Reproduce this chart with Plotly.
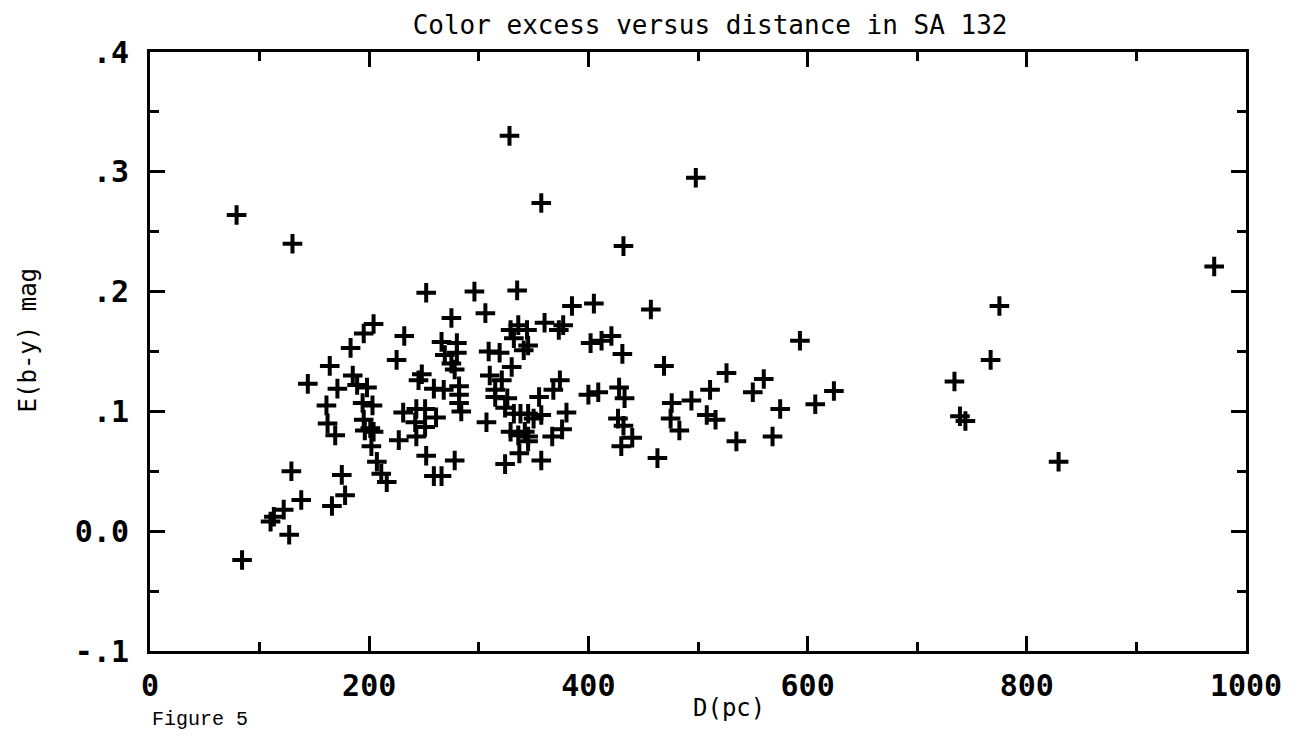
import plotly.graph_objects as go

# distance (pc) and colour excess E(b-y)
dist_pc = [
    79, 130, 328, 357, 432, 498,
    252, 296, 335,
    275, 204, 195, 232, 183, 266, 280, 269, 280, 275, 278, 225, 164, 144, 171,
    185, 189, 198, 248, 245, 259, 268, 282, 282, 282, 284, 161, 194, 203, 231,
    243, 251, 261, 242, 251, 243, 162, 169, 195, 201, 196, 204, 202, 207, 211,
    216, 227, 252, 259, 266, 278, 129, 175, 138, 178, 166, 122, 113, 110, 127, 84,
    306, 385, 405, 457, 329, 336, 344, 332, 345, 341, 360, 373, 377, 402, 412,
    421, 431, 469, 593, 526, 560, 550, 624, 607, 575, 568, 535, 511, 494, 476,
    508, 516, 475, 483, 463, 428, 433, 427, 432, 440, 430, 400, 409, 380, 374,
    368, 355, 376, 367, 357, 337, 324, 330, 310, 321, 315, 315, 326, 324, 309,
    319, 332, 338, 345, 350, 357, 307, 329, 336, 345, 342, 345,
    734, 739, 744, 767, 775, 829, 971,
]
color_excess = [
    0.264, 0.240, 0.330, 0.274, 0.238, 0.295,
    0.199, 0.200, 0.201,
    0.178, 0.173, 0.165, 0.163, 0.153, 0.158, 0.157, 0.147, 0.149, 0.140, 0.135,
    0.143, 0.138, 0.123, 0.119, 0.130, 0.122, 0.120, 0.131, 0.126, 0.119, 0.118,
    0.121, 0.114, 0.107, 0.100, 0.105, 0.107, 0.105, 0.099, 0.102, 0.102, 0.095,
    0.091, 0.087, 0.079, 0.090, 0.080, 0.093, 0.086, 0.084, 0.083, 0.071, 0.058,
    0.048, 0.041, 0.076, 0.063, 0.046, 0.046, 0.059, 0.050, 0.047, 0.026, 0.030,
    0.021, 0.018, 0.012, 0.008, -0.003, -0.024,
    0.182, 0.188, 0.190, 0.185, 0.168, 0.172, 0.168, 0.161, 0.155, 0.151, 0.174,
    0.168, 0.172, 0.157, 0.159, 0.163, 0.148, 0.138, 0.159, 0.132, 0.127, 0.116,
    0.117, 0.106, 0.102, 0.079, 0.075, 0.118, 0.109, 0.107, 0.097, 0.093, 0.094,
    0.084, 0.061, 0.120, 0.111, 0.094, 0.088, 0.078, 0.071, 0.114, 0.116, 0.099,
    0.126, 0.118, 0.112, 0.085, 0.079, 0.059, 0.065, 0.056, 0.137, 0.130, 0.126,
    0.118, 0.112, 0.111, 0.103, 0.150, 0.149, 0.098, 0.098, 0.098, 0.094, 0.097,
    0.091, 0.083, 0.080, 0.079, 0.083, 0.075,
    0.125, 0.096, 0.092, 0.143, 0.188, 0.058, 0.221,
]

x_ticks = [0, 200, 400, 600, 800, 1000]
y_ticks = [-0.1, 0.0, 0.1, 0.2, 0.3, 0.4]
y_ticktext = ["-.1", "0.0", ".1", ".2", ".3", ".4"]

MONO = "DejaVu Sans Mono"
INK = "black"

fig = go.Figure(go.Scatter(
    x=dist_pc, y=color_excess, mode="markers",
    marker=dict(symbol="cross-thin", size=14, color=INK,
                line=dict(color=INK, width=4)),
    showlegend=False, hoverinfo="x+y"))

axis_common = dict(
    showline=True, linecolor=INK, linewidth=3, mirror="ticks",
    ticks="inside", tickcolor=INK, tickwidth=3, ticklen=15,
    showgrid=False, zeroline=False,
    tickfont=dict(family=MONO, size=30, color=INK, weight="bold"),
)

fig.update_xaxes(
    range=[0, 1000], tickvals=x_ticks, ticklabelstandoff=6,
    minor=dict(dtick=100, ticks="inside", ticklen=9, tickwidth=2.5, tickcolor=INK),
    **axis_common)
fig.update_yaxes(
    range=[-0.1, 0.4], tickvals=y_ticks, ticktext=y_ticktext, ticklabelstandoff=12,
    minor=dict(dtick=0.05, tick0=0, ticks="inside", ticklen=9, tickwidth=2.5, tickcolor=INK),
    **axis_common)

label_font = dict(family=MONO, size=24, color=INK)
fig.update_layout(
    width=1296, height=738,
    margin=dict(l=142, r=58, t=44, b=95),
    plot_bgcolor="white", paper_bgcolor="white",
    title=dict(text="Color excess versus distance in SA 132",
               font=dict(family=MONO, size=26, color=INK),
               xref="paper", x=0.511, xanchor="center",
               yref="container", y=0.99, yanchor="top"),
    annotations=[
        dict(text="D(pc)", xref="paper", yref="paper", x=0.528, y=-0.095,
             xanchor="center", yanchor="middle", showarrow=False, font=label_font),
        dict(text="E(b-y) mag", xref="paper", yref="paper", x=-0.111, y=0.519,
             textangle=-90, xanchor="center", yanchor="middle", showarrow=False,
             font=label_font),
        dict(text="Figure 5", xref="paper", yref="paper", x=0.0, y=-0.115,
             xanchor="left", yanchor="middle", showarrow=False,
             font=dict(family="Liberation Mono", size=20, color=INK)),
    ],
)

fig.write_html("out.html")
